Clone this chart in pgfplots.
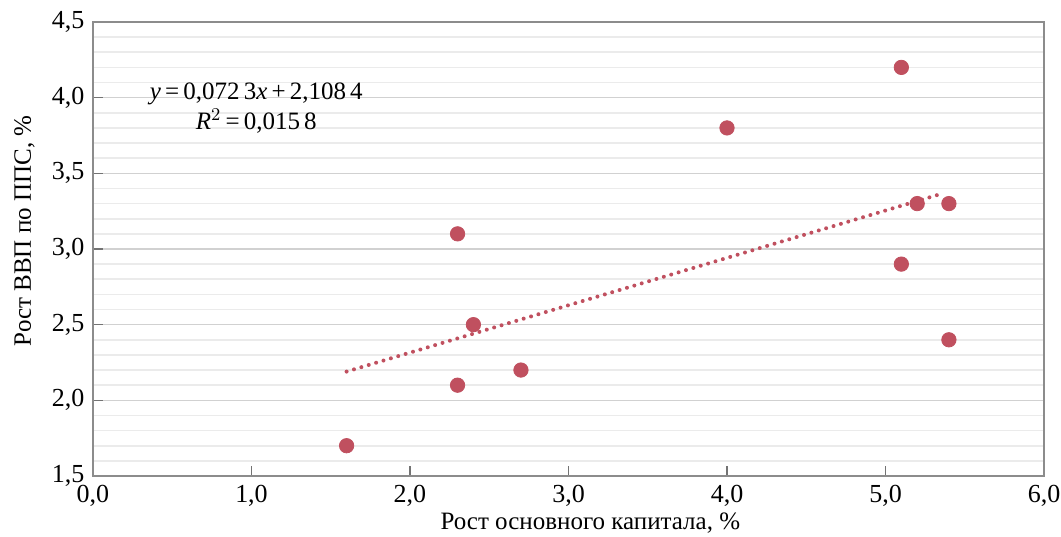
\documentclass[border=0pt]{standalone}
\usepackage{pgfplots}
\pgfplotsset{compat=1.18}
\usepackage{fontspec}
\setmainfont{Liberation Serif}
\definecolor{pt}{HTML}{C0505F}
\begin{document}
\fontsize{12.5}{15}\selectfont
\begin{tikzpicture}
\begin{axis}[
  scale only axis, width=475.5pt, height=227pt,
  xmin=0, xmax=6, ymin=1.5, ymax=4.5,
  xtick={0,1,...,6}, ytick={1.5,2,...,4.5},
  minor y tick num=4,
  ymajorgrids, yminorgrids,
  major grid style={draw=black!18, line width=0.8pt},
  minor grid style={draw=black!8, line width=0.8pt},
  xtick pos=bottom, ytick pos=left,
  tick align=inside, major tick length=5pt, minor tick length=0pt,
  tick style={draw=black!55, line width=0.8pt},
  axis line style={draw=black!45, line width=0.8pt},
  /pgf/number format/.cd, fixed, fixed zerofill, precision=1, use comma, assume math mode=true,
  /pgfplots/.cd,
  xticklabel={\pgfmathprintnumber{\tick}},
  yticklabel={\pgfmathprintnumber{\tick}},
  tick label style={font=\fontsize{13}{15}\selectfont},
  label style={font=\fontsize{12.5}{15}\selectfont},
  xlabel={Рост основного капитала, \%},
  ylabel={Рост ВВП по ППС, \%},
  xlabel style={at={(ticklabel cs:0.523)}, yshift=5pt},
  ylabel style={at={(ticklabel cs:0.54)}},
  clip=false,
]
\coordinate (ll) at (rel axis cs:0,0);
\coordinate (ur) at (rel axis cs:1,1);
\addplot[pt, line width=2pt, line cap=round, dash pattern=on 0pt off 3.85pt]
  coordinates {(1.6,2.19) (5.37,3.37)};
\addplot[only marks, mark=*, mark size=3.6pt, mark options={fill=pt, draw=pt}]
  coordinates {
  (1.6,1.7) (2.3,3.1) (2.3,2.1) (2.4,2.5) (2.7,2.2) (4.0,3.8)
  (5.1,4.2) (5.1,2.9) (5.2,3.3) (5.4,3.3) (5.4,2.4)};
\node[align=center, inner sep=0pt] at (axis cs:1.03,3.93)
  {\textit{y}\,=\,0,072\,3\textit{x}\,+\,2,108\,4\\[0pt]\textit{R}$^{2}$\,=\,0,015\,8};
\end{axis}
\pgfresetboundingbox
\useasboundingbox ([xshift=-46.5pt,yshift=-30.5pt]ll) rectangle ([xshift=8.5pt,yshift=11pt]ur);
\end{tikzpicture}
\end{document}
